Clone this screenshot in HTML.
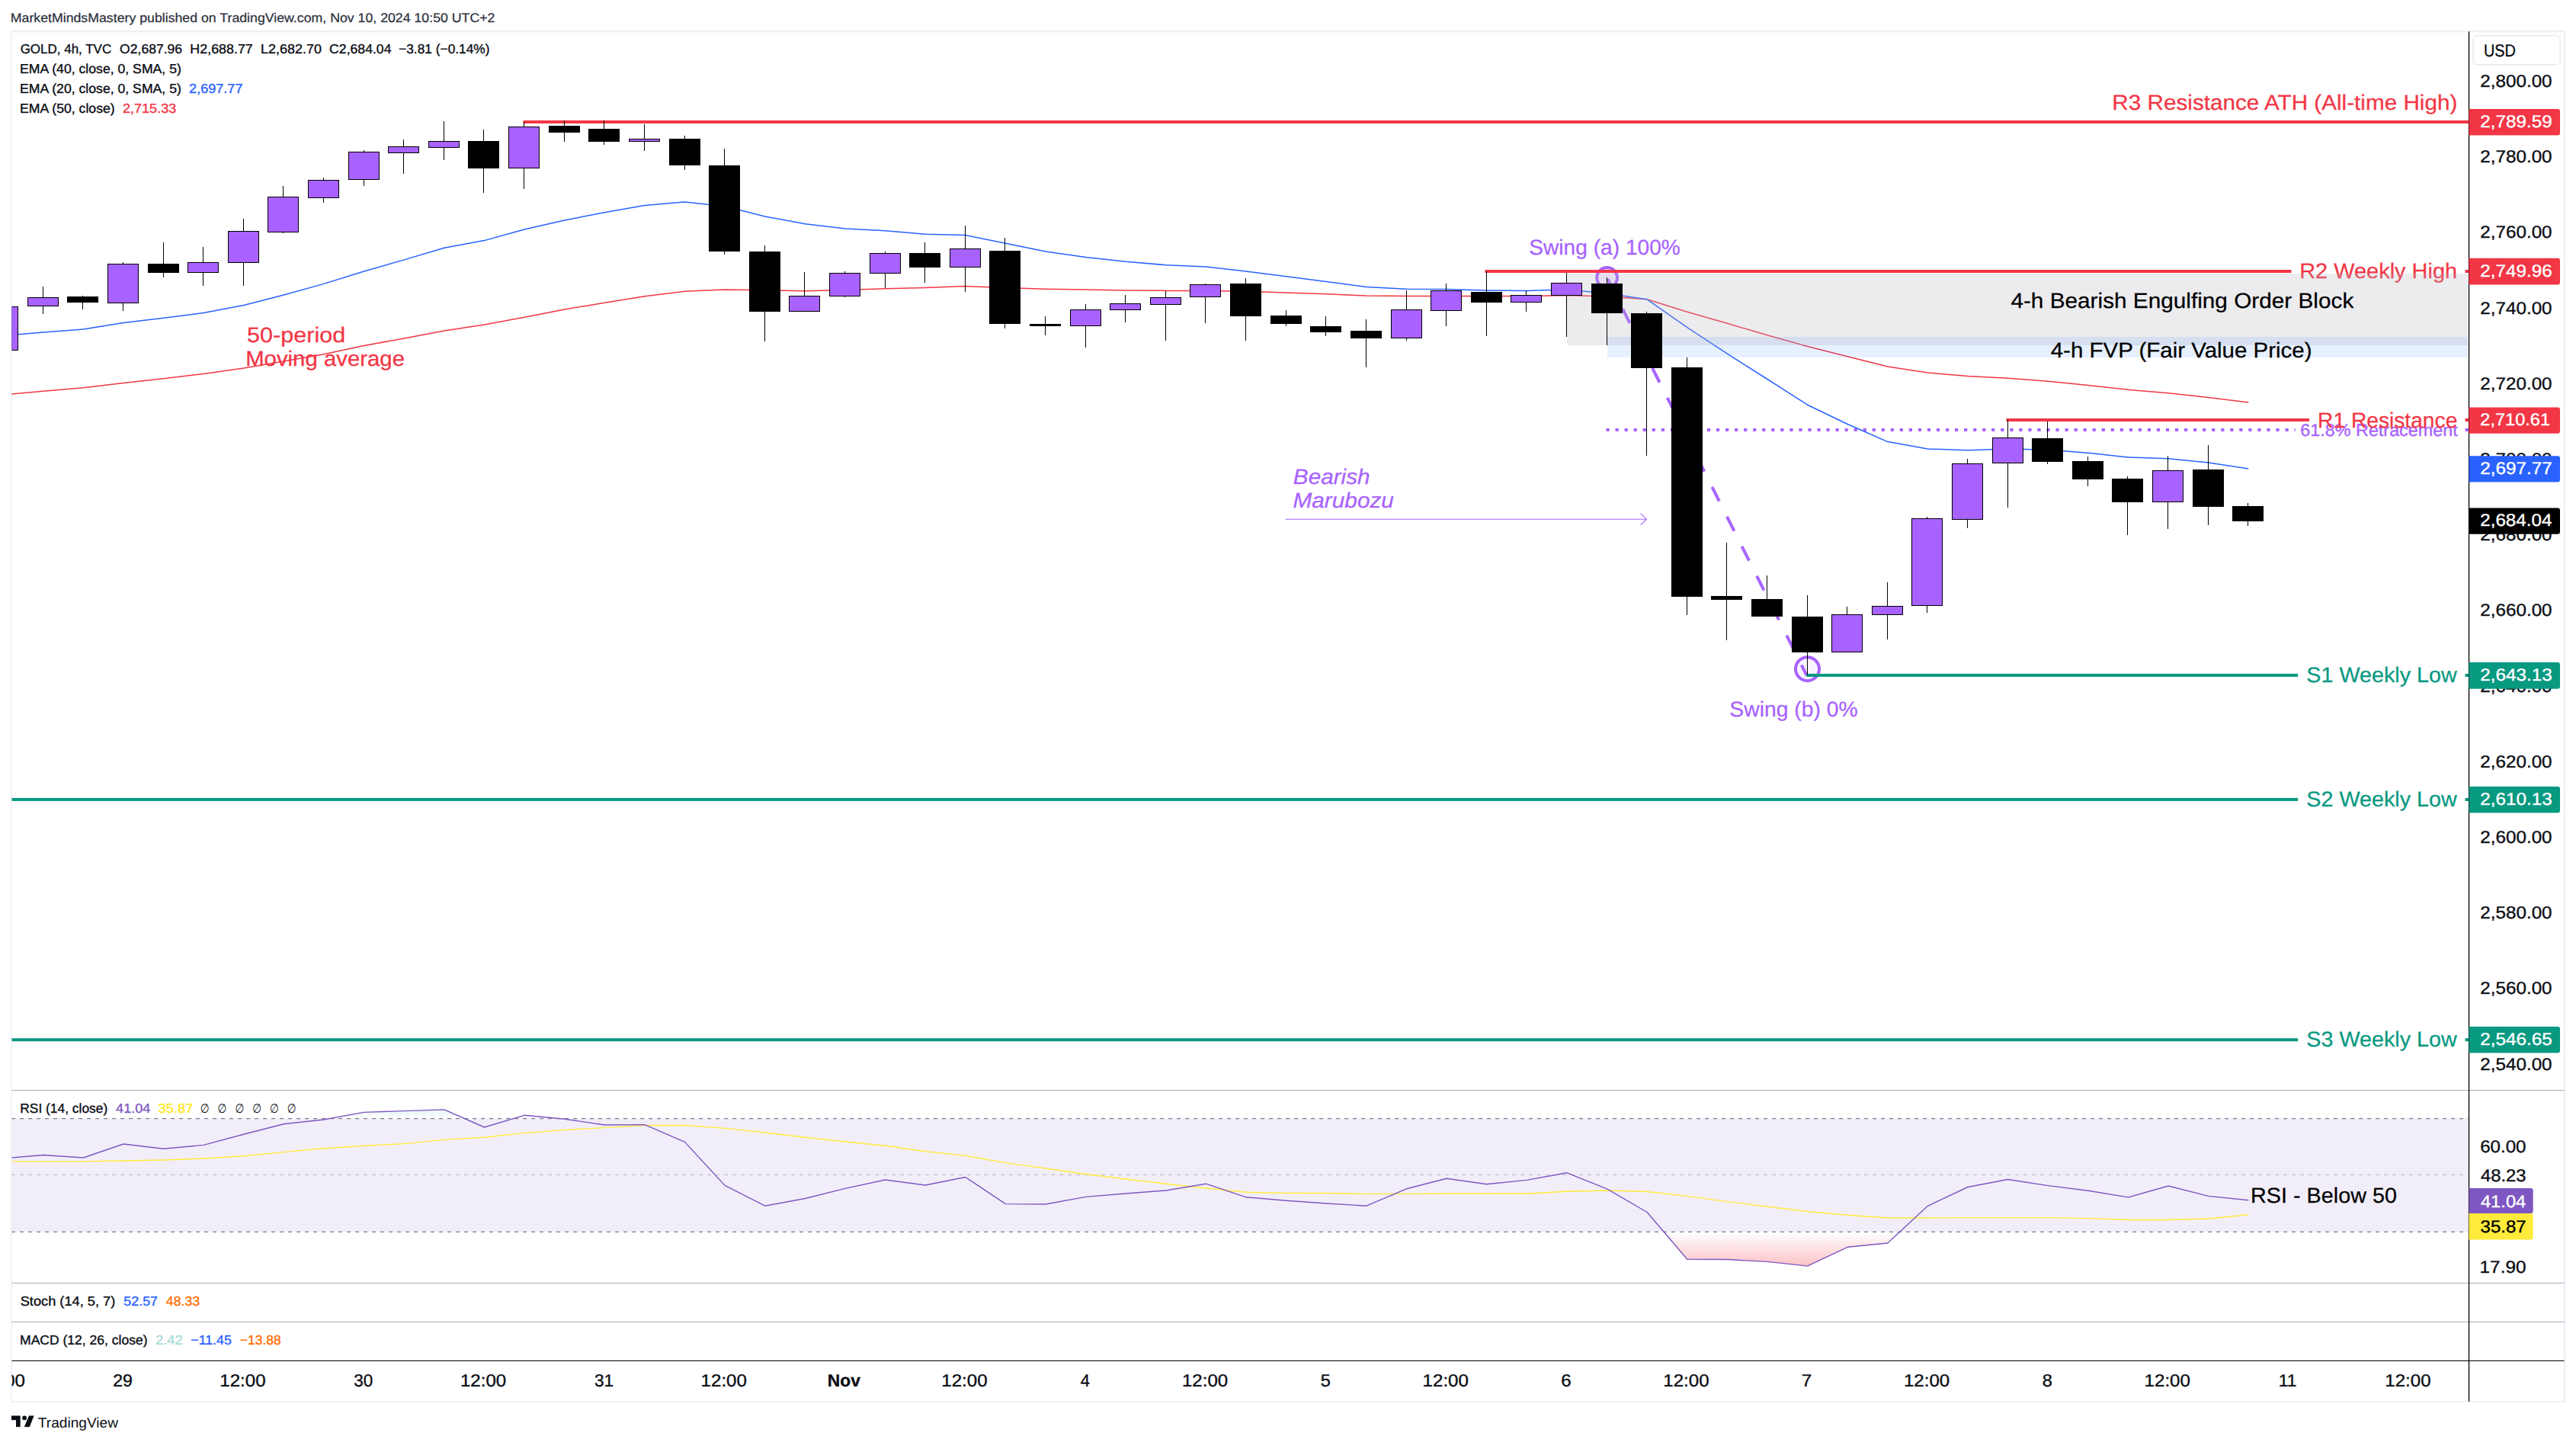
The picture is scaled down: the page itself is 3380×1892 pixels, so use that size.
<!DOCTYPE html>
<html lang="en"><head><meta charset="utf-8"><title>GOLD 4h chart - TradingView</title>
<style>html,body{margin:0;padding:0;background:#fff;}body{width:3380px;height:1892px;overflow:hidden;font-family:"Liberation Sans", "DejaVu Sans", sans-serif;}svg{display:block}</style>
</head><body>
<svg width="3380" height="1892" viewBox="0 0 3380 1892" font-family='"Liberation Sans", "DejaVu Sans", sans-serif' text-rendering="geometricPrecision">
<rect x="0" y="0" width="3380" height="1892" fill="#ffffff"/>
<rect x="14.3" y="40.2" width="3351.9" height="2.2" fill="#EEEFF6"/>
<rect x="3364" y="40.2" width="2.2" height="1799.8" fill="#EEEFF6"/>
<rect x="14.2" y="40.2" width="1.6" height="1799.8" fill="#EEEFF6"/>
<rect x="14.3" y="1838.3" width="3351.9" height="1.7" fill="#EEEFF6"/>
<text x="13.78" y="28.50" font-size="16.8" fill="#2E323E" textLength="635.66" lengthAdjust="spacingAndGlyphs" stroke="#2E323E" stroke-width="0.25">MarketMindsMastery published on TradingView.com, Nov 10, 2024 10:50 UTC+2</text>
<clipPath id="cpMain"><rect x="15.5" y="42" width="3224.0" height="1388"/></clipPath>
<g clip-path="url(#cpMain)">
<circle cx="2108.6" cy="364.3" r="13.4" fill="#A862FF" fill-opacity="0.12" stroke="#A862FF" stroke-width="4"/>
<circle cx="2371.5" cy="877.7" r="15.5" fill="#A862FF" fill-opacity="0.08" stroke="#A862FF" stroke-width="4"/>
<line x1="2108.6" y1="364.3" x2="2370.5" y2="886" stroke="#A862FF" stroke-width="4" stroke-dasharray="21 22.6" stroke-dashoffset="-2"/>
<line x1="2107.5" y1="564" x2="3011.7" y2="564" stroke="#A862FF" stroke-width="4" stroke-dasharray="4.2 7.84"/>
<line x1="3234.5" y1="564" x2="3239" y2="564" stroke="#A862FF" stroke-width="4"/>
<line x1="686.5" y1="160" x2="3239" y2="160" stroke="#F23645" stroke-width="4"/>
<line x1="1948.5" y1="356" x2="3006.4" y2="356" stroke="#F23645" stroke-width="4"/>
<line x1="3234.5" y1="356" x2="3239" y2="356" stroke="#F23645" stroke-width="4"/>
<line x1="2632.5" y1="551" x2="3030" y2="551" stroke="#F23645" stroke-width="4"/>
<line x1="3234.5" y1="551" x2="3239" y2="551" stroke="#F23645" stroke-width="4"/>
<line x1="2370.3" y1="886" x2="3015.2" y2="886" stroke="#089981" stroke-width="4"/>
<line x1="3234.5" y1="886" x2="3239" y2="886" stroke="#089981" stroke-width="4"/>
<line x1="15" y1="1049" x2="3015.2" y2="1049" stroke="#089981" stroke-width="4"/>
<line x1="3234.5" y1="1049" x2="3239" y2="1049" stroke="#089981" stroke-width="4"/>
<line x1="15" y1="1364.2" x2="3015.2" y2="1364.2" stroke="#089981" stroke-width="4"/>
<line x1="3234.5" y1="1364.2" x2="3239" y2="1364.2" stroke="#089981" stroke-width="4"/>
<path d="M1686.6 681.2H2160.4M2152.6 673.6L2160.4 681.2L2152.6 688.8" fill="none" stroke="#A862FF" stroke-width="1.1"/>
<polyline points="15.0,517.0 56.8,513.3 109.4,508.7 162.0,502.4 214.6,496.7 267.2,490.5 319.8,483.0 372.4,474.0 425.0,464.7 477.6,453.6 530.3,443.9 582.9,434.0 635.5,426.0 688.1,416.3 740.7,406.0 793.3,397.2 845.9,388.8 898.5,382.2 951.1,380.0 1003.8,380.8 1056.4,381.7 1109.0,380.4 1161.6,378.7 1214.2,377.4 1266.8,375.6 1319.4,377.4 1372.0,379.2 1424.6,380.0 1477.2,381.0 1529.8,381.4 1582.5,381.4 1635.1,382.3 1687.7,384.0 1740.3,385.8 1792.9,388.0 1845.5,388.5 1898.1,388.5 1950.7,388.5 2003.3,388.5 2056.0,387.6 2108.6,389.0 2161.2,392.8 2213.8,409.2 2266.4,424.3 2319.0,439.8 2371.6,454.5 2424.2,467.8 2476.8,481.0 2529.4,489.0 2582.0,493.5 2634.7,496.2 2687.3,500.2 2739.9,505.5 2792.5,511.3 2845.1,515.7 2897.7,521.5 2950.3,528.0" fill="none" stroke="#F23645" stroke-width="1.5" stroke-linejoin="round"/>
<polyline points="15.0,439.4 56.8,436.1 109.4,431.9 162.0,423.4 214.6,417.2 267.2,410.6 319.8,400.4 372.4,387.0 425.0,372.4 477.6,356.0 530.3,340.9 582.9,325.3 635.5,315.6 688.1,301.0 740.7,289.0 793.3,278.7 845.9,269.4 898.5,265.0 951.1,270.7 1003.8,284.0 1056.4,293.8 1109.0,300.0 1161.6,302.8 1214.2,307.3 1266.8,308.6 1319.4,319.3 1372.0,330.0 1424.6,337.5 1477.2,343.2 1529.8,347.7 1582.5,350.0 1635.1,356.0 1687.7,362.8 1740.3,369.4 1792.9,376.5 1845.5,379.2 1898.1,379.6 1950.7,381.0 2003.3,381.4 2056.0,380.0 2108.6,385.0 2161.2,392.8 2213.8,429.6 2266.4,464.2 2319.0,497.5 2371.6,531.2 2424.2,556.5 2476.8,579.6 2529.4,589.0 2582.0,590.7 2634.7,589.0 2687.3,590.3 2739.9,594.3 2792.5,600.0 2845.1,601.8 2897.7,607.0 2950.3,615.0" fill="none" stroke="#2962FF" stroke-width="1.5" stroke-linejoin="round"/>
<text x="3018.33" y="571.60" font-size="22.5" fill="#A862FF" textLength="206.36" lengthAdjust="spacingAndGlyphs" stroke="#A862FF" stroke-width="0.35">61.8% Retracement</text>
<text x="2771.33" y="143.90" font-size="28" fill="#F23645" textLength="453.02" lengthAdjust="spacingAndGlyphs" stroke="#F23645" stroke-width="0.25">R3 Resistance ATH (All-time High)</text>
<text x="3017.19" y="364.80" font-size="28" fill="#F23645" textLength="206.88" lengthAdjust="spacingAndGlyphs" stroke="#F23645" stroke-width="0.25">R2 Weekly High</text>
<text x="3041.05" y="560.70" font-size="28" fill="#F23645" textLength="183.27" lengthAdjust="spacingAndGlyphs" stroke="#F23645" stroke-width="0.25">R1 Resistance</text>
<text x="3026.31" y="894.80" font-size="28" fill="#089981" textLength="197.45" lengthAdjust="spacingAndGlyphs" stroke="#089981" stroke-width="0.25">S1 Weekly Low</text>
<text x="3026.31" y="1057.80" font-size="28" fill="#089981" textLength="197.45" lengthAdjust="spacingAndGlyphs" stroke="#089981" stroke-width="0.25">S2 Weekly Low</text>
<text x="3026.31" y="1373.00" font-size="28" fill="#089981" textLength="197.45" lengthAdjust="spacingAndGlyphs" stroke="#089981" stroke-width="0.25">S3 Weekly Low</text>
<rect x="2056" y="359" width="1182" height="94" fill="#B2B5BE" fill-opacity="0.25"/>
<rect x="2109" y="442" width="1129" height="27" fill="#5B9CF6" fill-opacity="0.15"/>
<g shape-rendering="crispEdges">
<rect x="-17" y="402" width="41" height="58" fill="#000"/><rect x="-16" y="403" width="39" height="56" fill="#A862FF"/>
<rect x="56" y="376" width="1" height="36" fill="#000"/>
<rect x="36" y="390" width="41" height="12" fill="#000"/>
<rect x="37" y="391" width="39" height="10" fill="#A862FF"/>
<rect x="108" y="388" width="1" height="18" fill="#000"/>
<rect x="88" y="389" width="41" height="8" fill="#000"/>
<rect x="161" y="344" width="1" height="64" fill="#000"/>
<rect x="141" y="346" width="41" height="52" fill="#000"/>
<rect x="142" y="347" width="39" height="50" fill="#A862FF"/>
<rect x="214" y="318" width="1" height="46" fill="#000"/>
<rect x="194" y="346" width="41" height="12" fill="#000"/>
<rect x="266" y="324" width="1" height="51" fill="#000"/>
<rect x="246" y="344" width="41" height="14" fill="#000"/>
<rect x="247" y="345" width="39" height="12" fill="#A862FF"/>
<rect x="319" y="287" width="1" height="88" fill="#000"/>
<rect x="299" y="303" width="41" height="42" fill="#000"/>
<rect x="300" y="304" width="39" height="40" fill="#A862FF"/>
<rect x="371" y="244" width="1" height="62" fill="#000"/>
<rect x="351" y="258" width="41" height="47" fill="#000"/>
<rect x="352" y="259" width="39" height="45" fill="#A862FF"/>
<rect x="424" y="233" width="1" height="33" fill="#000"/>
<rect x="404" y="236" width="41" height="24" fill="#000"/>
<rect x="405" y="237" width="39" height="22" fill="#A862FF"/>
<rect x="477" y="197" width="1" height="47" fill="#000"/>
<rect x="457" y="199" width="41" height="37" fill="#000"/>
<rect x="458" y="200" width="39" height="35" fill="#A862FF"/>
<rect x="529" y="183" width="1" height="45" fill="#000"/>
<rect x="509" y="192" width="41" height="9" fill="#000"/>
<rect x="510" y="193" width="39" height="7" fill="#A862FF"/>
<rect x="582" y="159" width="1" height="51" fill="#000"/>
<rect x="562" y="185" width="41" height="9" fill="#000"/>
<rect x="563" y="186" width="39" height="7" fill="#A862FF"/>
<rect x="634" y="170" width="1" height="83" fill="#000"/>
<rect x="614" y="185" width="41" height="36" fill="#000"/>
<rect x="687" y="160" width="1" height="88" fill="#000"/>
<rect x="667" y="166" width="41" height="55" fill="#000"/>
<rect x="668" y="167" width="39" height="53" fill="#A862FF"/>
<rect x="740" y="158" width="1" height="28" fill="#000"/>
<rect x="720" y="165" width="41" height="9" fill="#000"/>
<rect x="792" y="158" width="1" height="32" fill="#000"/>
<rect x="772" y="169" width="41" height="17" fill="#000"/>
<rect x="845" y="163" width="1" height="35" fill="#000"/>
<rect x="825" y="182" width="41" height="4" fill="#000"/>
<rect x="826" y="183" width="39" height="2" fill="#A862FF"/>
<rect x="898" y="178" width="1" height="45" fill="#000"/>
<rect x="878" y="182" width="41" height="35" fill="#000"/>
<rect x="950" y="195" width="1" height="139" fill="#000"/>
<rect x="930" y="217" width="41" height="113" fill="#000"/>
<rect x="1003" y="322" width="1" height="126" fill="#000"/>
<rect x="983" y="330" width="41" height="79" fill="#000"/>
<rect x="1055" y="357" width="1" height="52" fill="#000"/>
<rect x="1035" y="388" width="41" height="21" fill="#000"/>
<rect x="1036" y="389" width="39" height="19" fill="#A862FF"/>
<rect x="1108" y="356" width="1" height="34" fill="#000"/>
<rect x="1088" y="358" width="41" height="31" fill="#000"/>
<rect x="1089" y="359" width="39" height="29" fill="#A862FF"/>
<rect x="1161" y="330" width="1" height="48" fill="#000"/>
<rect x="1141" y="332" width="41" height="27" fill="#000"/>
<rect x="1142" y="333" width="39" height="25" fill="#A862FF"/>
<rect x="1213" y="318" width="1" height="53" fill="#000"/>
<rect x="1193" y="332" width="41" height="19" fill="#000"/>
<rect x="1266" y="296" width="1" height="87" fill="#000"/>
<rect x="1246" y="326" width="41" height="25" fill="#000"/>
<rect x="1247" y="327" width="39" height="23" fill="#A862FF"/>
<rect x="1318" y="312" width="1" height="119" fill="#000"/>
<rect x="1298" y="329" width="41" height="96" fill="#000"/>
<rect x="1371" y="415" width="1" height="25" fill="#000"/>
<rect x="1351" y="425" width="41" height="3" fill="#000"/>
<rect x="1424" y="399" width="1" height="57" fill="#000"/>
<rect x="1404" y="406" width="41" height="22" fill="#000"/>
<rect x="1405" y="407" width="39" height="20" fill="#A862FF"/>
<rect x="1476" y="387" width="1" height="36" fill="#000"/>
<rect x="1456" y="398" width="41" height="9" fill="#000"/>
<rect x="1457" y="399" width="39" height="7" fill="#A862FF"/>
<rect x="1529" y="382" width="1" height="65" fill="#000"/>
<rect x="1509" y="390" width="41" height="10" fill="#000"/>
<rect x="1510" y="391" width="39" height="8" fill="#A862FF"/>
<rect x="1581" y="372" width="1" height="52" fill="#000"/>
<rect x="1561" y="373" width="41" height="17" fill="#000"/>
<rect x="1562" y="374" width="39" height="15" fill="#A862FF"/>
<rect x="1634" y="365" width="1" height="82" fill="#000"/>
<rect x="1614" y="372" width="41" height="43" fill="#000"/>
<rect x="1687" y="407" width="1" height="21" fill="#000"/>
<rect x="1667" y="414" width="41" height="11" fill="#000"/>
<rect x="1739" y="415" width="1" height="26" fill="#000"/>
<rect x="1719" y="428" width="41" height="8" fill="#000"/>
<rect x="1792" y="419" width="1" height="63" fill="#000"/>
<rect x="1772" y="434" width="41" height="10" fill="#000"/>
<rect x="1845" y="381" width="1" height="66" fill="#000"/>
<rect x="1825" y="406" width="41" height="38" fill="#000"/>
<rect x="1826" y="407" width="39" height="36" fill="#A862FF"/>
<rect x="1897" y="372" width="1" height="56" fill="#000"/>
<rect x="1877" y="381" width="41" height="27" fill="#000"/>
<rect x="1878" y="382" width="39" height="25" fill="#A862FF"/>
<rect x="1950" y="356" width="1" height="85" fill="#000"/>
<rect x="1930" y="383" width="41" height="14" fill="#000"/>
<rect x="2002" y="381" width="1" height="28" fill="#000"/>
<rect x="1982" y="387" width="41" height="10" fill="#000"/>
<rect x="1983" y="388" width="39" height="8" fill="#A862FF"/>
<rect x="2055" y="358" width="1" height="84" fill="#000"/>
<rect x="2035" y="371" width="41" height="17" fill="#000"/>
<rect x="2036" y="372" width="39" height="15" fill="#A862FF"/>
<rect x="2108" y="364" width="1" height="89" fill="#000"/>
<rect x="2088" y="372" width="41" height="39" fill="#000"/>
<rect x="2160" y="409" width="1" height="189" fill="#000"/>
<rect x="2140" y="411" width="41" height="72" fill="#000"/>
<rect x="2213" y="469" width="1" height="338" fill="#000"/>
<rect x="2193" y="482" width="41" height="301" fill="#000"/>
<rect x="2265" y="712" width="1" height="128" fill="#000"/>
<rect x="2245" y="782" width="41" height="5" fill="#000"/>
<rect x="2318" y="755" width="1" height="54" fill="#000"/>
<rect x="2298" y="786" width="41" height="23" fill="#000"/>
<rect x="2371" y="781" width="1" height="105" fill="#000"/>
<rect x="2351" y="809" width="41" height="47" fill="#000"/>
<rect x="2423" y="796" width="1" height="60" fill="#000"/>
<rect x="2403" y="806" width="41" height="50" fill="#000"/>
<rect x="2404" y="807" width="39" height="48" fill="#A862FF"/>
<rect x="2476" y="764" width="1" height="75" fill="#000"/>
<rect x="2456" y="795" width="41" height="12" fill="#000"/>
<rect x="2457" y="796" width="39" height="10" fill="#A862FF"/>
<rect x="2528" y="678" width="1" height="126" fill="#000"/>
<rect x="2508" y="680" width="41" height="115" fill="#000"/>
<rect x="2509" y="681" width="39" height="113" fill="#A862FF"/>
<rect x="2581" y="602" width="1" height="91" fill="#000"/>
<rect x="2561" y="608" width="41" height="74" fill="#000"/>
<rect x="2562" y="609" width="39" height="72" fill="#A862FF"/>
<rect x="2634" y="551" width="1" height="115" fill="#000"/>
<rect x="2614" y="574" width="41" height="34" fill="#000"/>
<rect x="2615" y="575" width="39" height="32" fill="#A862FF"/>
<rect x="2686" y="553" width="1" height="56" fill="#000"/>
<rect x="2666" y="575" width="41" height="31" fill="#000"/>
<rect x="2739" y="599" width="1" height="39" fill="#000"/>
<rect x="2719" y="605" width="41" height="24" fill="#000"/>
<rect x="2791" y="625" width="1" height="77" fill="#000"/>
<rect x="2771" y="628" width="41" height="31" fill="#000"/>
<rect x="2844" y="598" width="1" height="96" fill="#000"/>
<rect x="2824" y="617" width="41" height="42" fill="#000"/>
<rect x="2825" y="618" width="39" height="40" fill="#A862FF"/>
<rect x="2897" y="584" width="1" height="105" fill="#000"/>
<rect x="2877" y="616" width="41" height="49" fill="#000"/>
<rect x="2949" y="660" width="1" height="30" fill="#000"/>
<rect x="2929" y="664" width="41" height="20" fill="#000"/>
</g>
<text x="2638.40" y="404.20" font-size="28" fill="#000" textLength="449.87" lengthAdjust="spacingAndGlyphs" stroke="#000" stroke-width="0.25">4-h Bearish Engulfing Order Block</text>
<text x="2690.71" y="469.30" font-size="28" fill="#000" textLength="342.82" lengthAdjust="spacingAndGlyphs" stroke="#000" stroke-width="0.25">4-h FVP (Fair Value Price)</text>
<text x="2006.23" y="333.70" font-size="28" fill="#A862FF" textLength="198.63" lengthAdjust="spacingAndGlyphs" stroke="#A862FF" stroke-width="0.25">Swing (a) 100%</text>
<text x="2269.33" y="939.60" font-size="28" fill="#A862FF" textLength="168.28" lengthAdjust="spacingAndGlyphs" stroke="#A862FF" stroke-width="0.25">Swing (b) 0%</text>
<text x="1696.81" y="635.00" font-size="28" fill="#A862FF" textLength="100.85" lengthAdjust="spacingAndGlyphs" font-style="italic" stroke="#A862FF" stroke-width="0.25">Bearish</text>
<text x="1696.41" y="665.50" font-size="28" fill="#A862FF" textLength="132.55" lengthAdjust="spacingAndGlyphs" font-style="italic" stroke="#A862FF" stroke-width="0.25">Marubozu</text>
<text x="323.98" y="449.40" font-size="28" fill="#F23645" textLength="129.27" lengthAdjust="spacingAndGlyphs" stroke="#F23645" stroke-width="0.25">50-period</text>
<text x="322.15" y="479.50" font-size="28" fill="#F23645" textLength="208.84" lengthAdjust="spacingAndGlyphs" stroke="#F23645" stroke-width="0.25">Moving average</text>
</g>
<text x="26.65" y="70.00" font-size="17.3" fill="#0B0D14" textLength="119.52" lengthAdjust="spacingAndGlyphs" stroke="#0B0D14" stroke-width="0.35">GOLD, 4h, TVC</text>
<text x="157.11" y="70.00" font-size="17.3" fill="#0B0D14" textLength="82.00" lengthAdjust="spacingAndGlyphs" stroke="#0B0D14" stroke-width="0.35">O2,687.96</text>
<text x="249.37" y="70.00" font-size="17.3" fill="#0B0D14" textLength="82.43" lengthAdjust="spacingAndGlyphs" stroke="#0B0D14" stroke-width="0.35">H2,688.77</text>
<text x="342.06" y="70.00" font-size="17.3" fill="#0B0D14" textLength="79.84" lengthAdjust="spacingAndGlyphs" stroke="#0B0D14" stroke-width="0.35">L2,682.70</text>
<text x="432.12" y="70.00" font-size="17.3" fill="#0B0D14" textLength="81.32" lengthAdjust="spacingAndGlyphs" stroke="#0B0D14" stroke-width="0.35">C2,684.04</text>
<text x="523.13" y="70.00" font-size="17.3" fill="#0B0D14" textLength="119.38" lengthAdjust="spacingAndGlyphs" stroke="#0B0D14" stroke-width="0.35">−3.81 (−0.14%)</text>
<text x="26.09" y="95.80" font-size="17.3" fill="#0B0D14" textLength="211.76" lengthAdjust="spacingAndGlyphs" stroke="#0B0D14" stroke-width="0.35">EMA (40, close, 0, SMA, 5)</text>
<text x="26.09" y="121.70" font-size="17.3" fill="#0B0D14" textLength="211.76" lengthAdjust="spacingAndGlyphs" stroke="#0B0D14" stroke-width="0.35">EMA (20, close, 0, SMA, 5)</text>
<text x="248.10" y="121.70" font-size="17.3" fill="#2962FF" textLength="70.37" lengthAdjust="spacingAndGlyphs" stroke="#2962FF" stroke-width="0.35">2,697.77</text>
<text x="26.09" y="147.60" font-size="17.3" fill="#0B0D14" textLength="124.64" lengthAdjust="spacingAndGlyphs" stroke="#0B0D14" stroke-width="0.35">EMA (50, close)</text>
<text x="160.90" y="147.60" font-size="17.3" fill="#F23645" textLength="70.38" lengthAdjust="spacingAndGlyphs" stroke="#F23645" stroke-width="0.35">2,715.33</text>
<rect x="15.5" y="1430.00" width="3349.0" height="1" fill="#A9ACBA"/>
<rect x="15.5" y="1683.00" width="3349.0" height="1" fill="#A9ACBA"/>
<rect x="15.5" y="1734.00" width="3349.0" height="1" fill="#A9ACBA"/>
<rect x="15.5" y="1785" width="3349.0" height="1" fill="#000"/>
<rect x="3238.9" y="41.3" width="1.3" height="1797.7" fill="#000"/>
<rect x="3245.1" y="46.7" width="114.1" height="38" rx="4.7" fill="#fff" stroke="#E8E9F2" stroke-width="1.5"/>
<text x="3258.91" y="73.50" font-size="22.7" fill="#0B0D14" textLength="42.02" lengthAdjust="spacingAndGlyphs" stroke="#0B0D14" stroke-width="0.35">USD</text>
<text x="3254.29" y="113.90" font-size="22.7" fill="#0B0D14" textLength="94.32" lengthAdjust="spacingAndGlyphs" stroke="#0B0D14" stroke-width="0.35">2,800.00</text>
<text x="3254.29" y="213.10" font-size="22.7" fill="#0B0D14" textLength="94.32" lengthAdjust="spacingAndGlyphs" stroke="#0B0D14" stroke-width="0.35">2,780.00</text>
<text x="3254.29" y="312.30" font-size="22.7" fill="#0B0D14" textLength="94.32" lengthAdjust="spacingAndGlyphs" stroke="#0B0D14" stroke-width="0.35">2,760.00</text>
<text x="3254.29" y="411.50" font-size="22.7" fill="#0B0D14" textLength="94.32" lengthAdjust="spacingAndGlyphs" stroke="#0B0D14" stroke-width="0.35">2,740.00</text>
<text x="3254.29" y="510.70" font-size="22.7" fill="#0B0D14" textLength="94.32" lengthAdjust="spacingAndGlyphs" stroke="#0B0D14" stroke-width="0.35">2,720.00</text>
<text x="3254.29" y="609.90" font-size="22.7" fill="#0B0D14" textLength="94.32" lengthAdjust="spacingAndGlyphs" stroke="#0B0D14" stroke-width="0.35">2,700.00</text>
<text x="3254.29" y="709.10" font-size="22.7" fill="#0B0D14" textLength="94.32" lengthAdjust="spacingAndGlyphs" stroke="#0B0D14" stroke-width="0.35">2,680.00</text>
<text x="3254.29" y="808.30" font-size="22.7" fill="#0B0D14" textLength="94.32" lengthAdjust="spacingAndGlyphs" stroke="#0B0D14" stroke-width="0.35">2,660.00</text>
<text x="3254.29" y="907.50" font-size="22.7" fill="#0B0D14" textLength="94.32" lengthAdjust="spacingAndGlyphs" stroke="#0B0D14" stroke-width="0.35">2,640.00</text>
<text x="3254.29" y="1006.70" font-size="22.7" fill="#0B0D14" textLength="94.32" lengthAdjust="spacingAndGlyphs" stroke="#0B0D14" stroke-width="0.35">2,620.00</text>
<text x="3254.29" y="1105.90" font-size="22.7" fill="#0B0D14" textLength="94.32" lengthAdjust="spacingAndGlyphs" stroke="#0B0D14" stroke-width="0.35">2,600.00</text>
<text x="3254.29" y="1205.10" font-size="22.7" fill="#0B0D14" textLength="94.32" lengthAdjust="spacingAndGlyphs" stroke="#0B0D14" stroke-width="0.35">2,580.00</text>
<text x="3254.29" y="1304.30" font-size="22.7" fill="#0B0D14" textLength="94.32" lengthAdjust="spacingAndGlyphs" stroke="#0B0D14" stroke-width="0.35">2,560.00</text>
<text x="3254.29" y="1403.50" font-size="22.7" fill="#0B0D14" textLength="94.32" lengthAdjust="spacingAndGlyphs" stroke="#0B0D14" stroke-width="0.35">2,540.00</text>
<path d="M3239.5 143H3356Q3359 143 3359 146V174.6Q3359 177.6 3356 177.6H3239.5Z" fill="#F23645"/>
<text x="3254.29" y="166.90" font-size="22.7" fill="#fff" textLength="94.57" lengthAdjust="spacingAndGlyphs" stroke="#fff" stroke-width="0.35">2,789.59</text>
<path d="M3239.5 338.8H3356Q3359 338.8 3359 341.8V370.4Q3359 373.4 3356 373.4H3239.5Z" fill="#F23645"/>
<text x="3254.29" y="362.70" font-size="22.7" fill="#fff" textLength="94.45" lengthAdjust="spacingAndGlyphs" stroke="#fff" stroke-width="0.35">2,749.96</text>
<path d="M3239.5 534.4H3356Q3359 534.4 3359 537.4V565.7Q3359 568.7 3356 568.7H3239.5Z" fill="#F23645"/>
<text x="3254.32" y="558.15" font-size="22.7" fill="#fff" textLength="91.80" lengthAdjust="spacingAndGlyphs" stroke="#fff" stroke-width="0.35">2,710.61</text>
<path d="M3239.5 598.3H3356Q3359 598.3 3359 601.3V629.5Q3359 632.5 3356 632.5H3239.5Z" fill="#2962FF"/>
<text x="3254.29" y="622.00" font-size="22.7" fill="#fff" textLength="94.57" lengthAdjust="spacingAndGlyphs" stroke="#fff" stroke-width="0.35">2,697.77</text>
<path d="M3239.5 666.4H3356Q3359 666.4 3359 669.4V697.7Q3359 700.7 3356 700.7H3239.5Z" fill="#000"/>
<text x="3254.29" y="690.15" font-size="22.7" fill="#fff" textLength="94.08" lengthAdjust="spacingAndGlyphs" stroke="#fff" stroke-width="0.35">2,684.04</text>
<path d="M3239.5 869H3356Q3359 869 3359 872V900.7Q3359 903.7 3356 903.7H3239.5Z" fill="#089981"/>
<text x="3254.29" y="892.95" font-size="22.7" fill="#fff" textLength="94.45" lengthAdjust="spacingAndGlyphs" stroke="#fff" stroke-width="0.35">2,643.13</text>
<path d="M3239.5 1031.9H3356Q3359 1031.9 3359 1034.9V1063.5Q3359 1066.5 3356 1066.5H3239.5Z" fill="#089981"/>
<text x="3254.29" y="1055.80" font-size="22.7" fill="#fff" textLength="94.45" lengthAdjust="spacingAndGlyphs" stroke="#fff" stroke-width="0.35">2,610.13</text>
<path d="M3239.5 1347H3356Q3359 1347 3359 1350V1378.6Q3359 1381.6 3356 1381.6H3239.5Z" fill="#089981"/>
<text x="3254.29" y="1370.90" font-size="22.7" fill="#fff" textLength="94.45" lengthAdjust="spacingAndGlyphs" stroke="#fff" stroke-width="0.35">2,546.65</text>
<clipPath id="cpRsi"><rect x="15.5" y="1431.5" width="3224.0" height="251.5"/></clipPath>
<g clip-path="url(#cpRsi)">
<rect x="15.5" y="1467.5" width="3224.0" height="148.70000000000005" fill="#7E57C2" fill-opacity="0.1"/>
<defs><linearGradient id="gOS" x1="0" y1="1616" x2="0" y2="1690" gradientUnits="userSpaceOnUse"><stop offset="0" stop-color="#F23645" stop-opacity="0"/><stop offset="1" stop-color="#F23645" stop-opacity="0.5"/></linearGradient><linearGradient id="gOB" x1="0" y1="1440" x2="0" y2="1467.5" gradientUnits="userSpaceOnUse"><stop offset="0" stop-color="#089981" stop-opacity="0.25"/><stop offset="1" stop-color="#089981" stop-opacity="0"/></linearGradient></defs>
<polygon points="2183.1,1616.2 2213.8,1652.2 2266.4,1652.5 2319.0,1655.4 2371.6,1661.1 2424.2,1636.3 2476.8,1631.0 2492.8,1616.2" fill="url(#gOS)"/>
<polygon points="433.3,1467.5 477.6,1459.4 530.3,1457.6 582.9,1455.9 609.3,1467.5" fill="url(#gOB)"/>
<polygon points="674.0,1467.5 688.1,1463.3 733.2,1467.5" fill="url(#gOB)"/>
<line x1="15.1" y1="1467.6" x2="3239.5" y2="1467.6" stroke="#787B86" stroke-width="1.2" stroke-dasharray="5 6"/>
<line x1="15.1" y1="1541.5" x2="3239.5" y2="1541.5" stroke="#787B86" stroke-opacity="0.5" stroke-width="1" stroke-dasharray="5 6"/>
<line x1="15.1" y1="1616.3" x2="3239.5" y2="1616.3" stroke="#787B86" stroke-width="1.2" stroke-dasharray="5 6"/>
<polyline points="15.0,1523.9 109.4,1523.9 162.0,1523.0 214.6,1522.0 267.2,1520.0 319.8,1516.8 372.4,1511.6 425.0,1506.8 477.6,1503.2 530.3,1500.6 582.9,1495.4 635.5,1492.3 688.1,1486.6 740.7,1482.6 793.3,1479.6 845.9,1476.5 898.5,1476.5 951.1,1480.4 1003.8,1486.0 1056.4,1492.3 1109.0,1498.0 1161.6,1503.2 1214.2,1510.7 1266.8,1516.4 1319.4,1525.6 1372.0,1533.0 1424.6,1540.5 1477.2,1547.0 1529.8,1553.2 1582.5,1559.0 1635.1,1564.2 1687.7,1565.5 1740.3,1565.5 1792.9,1566.4 1845.5,1566.4 1898.1,1566.0 1950.7,1566.0 2003.3,1566.0 2056.0,1563.3 2108.6,1562.0 2161.2,1563.5 2213.8,1569.4 2266.4,1576.6 2319.0,1583.3 2371.6,1589.5 2424.2,1594.3 2476.8,1598.0 2529.4,1598.0 2582.0,1597.6 2634.7,1597.6 2687.3,1597.6 2739.9,1598.6 2792.5,1600.5 2845.1,1600.5 2897.7,1599.0 2950.3,1593.8" fill="none" stroke="#FFEB3B" stroke-width="1.4" stroke-linejoin="round"/>
<polyline points="15.0,1519.0 56.8,1515.5 109.4,1519.0 162.0,1501.0 214.6,1507.2 267.2,1502.4 319.8,1488.3 372.4,1474.7 425.0,1469.0 477.6,1459.4 530.3,1457.6 582.9,1455.9 635.5,1479.0 688.1,1463.3 740.7,1468.2 793.3,1476.0 845.9,1475.6 898.5,1498.4 951.1,1555.4 1003.8,1582.2 1056.4,1572.5 1109.0,1559.4 1161.6,1548.0 1214.2,1555.0 1266.8,1544.5 1319.4,1579.6 1372.0,1580.0 1424.6,1570.4 1477.2,1566.0 1529.8,1562.0 1582.5,1553.2 1635.1,1570.8 1687.7,1575.2 1740.3,1579.0 1792.9,1582.2 1845.5,1559.8 1898.1,1546.2 1950.7,1553.7 2003.3,1548.4 2056.0,1538.8 2108.6,1559.8 2161.2,1590.5 2213.8,1652.2 2266.4,1652.5 2319.0,1655.4 2371.6,1661.1 2424.2,1636.3 2476.8,1631.0 2529.4,1582.3 2582.0,1557.5 2634.7,1547.5 2687.3,1555.6 2739.9,1562.3 2792.5,1570.9 2845.1,1556.0 2897.7,1569.4 2950.3,1574.7" fill="none" stroke="#7E57C2" stroke-width="1.4" stroke-linejoin="round"/>
<text x="2953.00" y="1577.90" font-size="28" fill="#000" textLength="192.00" lengthAdjust="spacingAndGlyphs" stroke="#000" stroke-width="0.25">RSI - Below 50</text>
</g>
<text x="26.31" y="1459.70" font-size="17.3" fill="#0B0D14" textLength="114.91" lengthAdjust="spacingAndGlyphs" stroke="#0B0D14" stroke-width="0.35">RSI (14, close)</text>
<text x="152.14" y="1459.70" font-size="17.3" fill="#7E57C2" textLength="45.16" lengthAdjust="spacingAndGlyphs" stroke="#7E57C2" stroke-width="0.35">41.04</text>
<text x="207.56" y="1459.80" font-size="17.3" fill="#FFE826" textLength="45.91" lengthAdjust="spacingAndGlyphs" stroke="#FFE826" stroke-width="0.35">35.87</text>
<text transform="translate(268.7 1459.7) scale(0.82 1)" font-size="16.5" fill="#0B0D14" text-anchor="middle" font-style="italic">∅</text>
<text transform="translate(291.5 1459.7) scale(0.82 1)" font-size="16.5" fill="#0B0D14" text-anchor="middle" font-style="italic">∅</text>
<text transform="translate(314.4 1459.7) scale(0.82 1)" font-size="16.5" fill="#0B0D14" text-anchor="middle" font-style="italic">∅</text>
<text transform="translate(337.2 1459.7) scale(0.82 1)" font-size="16.5" fill="#0B0D14" text-anchor="middle" font-style="italic">∅</text>
<text transform="translate(359.9 1459.7) scale(0.82 1)" font-size="16.5" fill="#0B0D14" text-anchor="middle" font-style="italic">∅</text>
<text transform="translate(382.7 1459.7) scale(0.82 1)" font-size="16.5" fill="#0B0D14" text-anchor="middle" font-style="italic">∅</text>
<text x="3254.20" y="1511.90" font-size="22.7" fill="#0B0D14" textLength="60.31" lengthAdjust="spacingAndGlyphs" stroke="#0B0D14" stroke-width="0.35">60.00</text>
<text x="3254.92" y="1549.60" font-size="22.7" fill="#0B0D14" textLength="59.69" lengthAdjust="spacingAndGlyphs" stroke="#0B0D14" stroke-width="0.35">48.23</text>
<text x="3253.57" y="1669.50" font-size="22.7" fill="#0B0D14" textLength="60.94" lengthAdjust="spacingAndGlyphs" stroke="#0B0D14" stroke-width="0.35">17.90</text>
<path d="M3239.5 1559H3320.7Q3323.7 1559 3323.7 1562V1589Q3323.7 1592 3320.7 1592H3239.5Z" fill="#7E57C2"/>
<text x="3254.93" y="1584.30" font-size="22.7" fill="#fff" textLength="59.33" lengthAdjust="spacingAndGlyphs" stroke="#fff" stroke-width="0.35">41.04</text>
<path d="M3239.5 1592H3320.7Q3323.7 1592 3323.7 1595V1623.6Q3323.7 1626.6 3320.7 1626.6H3239.5Z" fill="#FFEB3B"/>
<text x="3254.56" y="1617.30" font-size="22.7" fill="#000" textLength="60.18" lengthAdjust="spacingAndGlyphs" stroke="#000" stroke-width="0.35">35.87</text>
<text x="26.68" y="1712.90" font-size="17.3" fill="#0B0D14" textLength="124.66" lengthAdjust="spacingAndGlyphs" stroke="#0B0D14" stroke-width="0.35">Stoch (14, 5, 7)</text>
<text x="162.28" y="1712.90" font-size="17.3" fill="#2962FF" textLength="44.77" lengthAdjust="spacingAndGlyphs" stroke="#2962FF" stroke-width="0.35">52.57</text>
<text x="217.85" y="1712.90" font-size="17.3" fill="#FF6D00" textLength="44.20" lengthAdjust="spacingAndGlyphs" stroke="#FF6D00" stroke-width="0.35">48.33</text>
<text x="26.10" y="1763.90" font-size="17.3" fill="#0B0D14" textLength="167.43" lengthAdjust="spacingAndGlyphs" stroke="#0B0D14" stroke-width="0.35">MACD (12, 26, close)</text>
<text x="204.09" y="1763.90" font-size="17.3" fill="#A8DCD4" textLength="35.56" lengthAdjust="spacingAndGlyphs" stroke="#A8DCD4" stroke-width="0.35">2.42</text>
<text x="250.31" y="1763.90" font-size="17.3" fill="#2962FF" textLength="53.54" lengthAdjust="spacingAndGlyphs" stroke="#2962FF" stroke-width="0.35">−11.45</text>
<text x="314.83" y="1763.90" font-size="17.3" fill="#FF6D00" textLength="53.90" lengthAdjust="spacingAndGlyphs" stroke="#FF6D00" stroke-width="0.35">−13.88</text>
<clipPath id="cpT"><rect x="15.5" y="1786" width="3224.0" height="52"/></clipPath><g clip-path="url(#cpT)">
<text x="-27.35" y="1819.00" font-size="22.7" fill="#0B0D14" textLength="60.31" lengthAdjust="spacingAndGlyphs" stroke="#0B0D14" stroke-width="0.35">12:00</text>
<text x="148.24" y="1819.00" font-size="22.7" fill="#0B0D14" textLength="25.64" lengthAdjust="spacingAndGlyphs" stroke="#0B0D14" stroke-width="0.35">29</text>
<text x="288.31" y="1819.00" font-size="22.7" fill="#0B0D14" textLength="60.31" lengthAdjust="spacingAndGlyphs" stroke="#0B0D14" stroke-width="0.35">12:00</text>
<text x="464.26" y="1819.00" font-size="22.7" fill="#0B0D14" textLength="25.03" lengthAdjust="spacingAndGlyphs" stroke="#0B0D14" stroke-width="0.35">30</text>
<text x="603.97" y="1819.00" font-size="22.7" fill="#0B0D14" textLength="60.31" lengthAdjust="spacingAndGlyphs" stroke="#0B0D14" stroke-width="0.35">12:00</text>
<text x="779.91" y="1819.00" font-size="22.7" fill="#0B0D14" textLength="25.27" lengthAdjust="spacingAndGlyphs" stroke="#0B0D14" stroke-width="0.35">31</text>
<text x="919.63" y="1819.00" font-size="22.7" fill="#0B0D14" textLength="60.31" lengthAdjust="spacingAndGlyphs" stroke="#0B0D14" stroke-width="0.35">12:00</text>
<text x="1085.79" y="1819.00" font-size="22.7" fill="#0B0D14" textLength="43.06" lengthAdjust="spacingAndGlyphs" font-weight="bold" stroke="#0B0D14" stroke-width="0.35">Nov</text>
<text x="1235.29" y="1819.00" font-size="22.7" fill="#0B0D14" textLength="60.31" lengthAdjust="spacingAndGlyphs" stroke="#0B0D14" stroke-width="0.35">12:00</text>
<text x="1417.69" y="1819.00" font-size="22.7" fill="#0B0D14" textLength="12.21" lengthAdjust="spacingAndGlyphs" stroke="#0B0D14" stroke-width="0.35">4</text>
<text x="1550.95" y="1819.00" font-size="22.7" fill="#0B0D14" textLength="60.31" lengthAdjust="spacingAndGlyphs" stroke="#0B0D14" stroke-width="0.35">12:00</text>
<text x="1732.85" y="1819.00" font-size="22.7" fill="#0B0D14" textLength="13.11" lengthAdjust="spacingAndGlyphs" stroke="#0B0D14" stroke-width="0.35">5</text>
<text x="1866.61" y="1819.00" font-size="22.7" fill="#0B0D14" textLength="60.31" lengthAdjust="spacingAndGlyphs" stroke="#0B0D14" stroke-width="0.35">12:00</text>
<text x="2048.25" y="1819.00" font-size="22.7" fill="#0B0D14" textLength="13.40" lengthAdjust="spacingAndGlyphs" stroke="#0B0D14" stroke-width="0.35">6</text>
<text x="2182.27" y="1819.00" font-size="22.7" fill="#0B0D14" textLength="60.31" lengthAdjust="spacingAndGlyphs" stroke="#0B0D14" stroke-width="0.35">12:00</text>
<text x="2363.89" y="1819.00" font-size="22.7" fill="#0B0D14" textLength="13.54" lengthAdjust="spacingAndGlyphs" stroke="#0B0D14" stroke-width="0.35">7</text>
<text x="2497.93" y="1819.00" font-size="22.7" fill="#0B0D14" textLength="60.31" lengthAdjust="spacingAndGlyphs" stroke="#0B0D14" stroke-width="0.35">12:00</text>
<text x="2679.83" y="1819.00" font-size="22.7" fill="#0B0D14" textLength="13.11" lengthAdjust="spacingAndGlyphs" stroke="#0B0D14" stroke-width="0.35">8</text>
<text x="2813.59" y="1819.00" font-size="22.7" fill="#0B0D14" textLength="60.31" lengthAdjust="spacingAndGlyphs" stroke="#0B0D14" stroke-width="0.35">12:00</text>
<text x="2989.81" y="1819.00" font-size="22.7" fill="#0B0D14" textLength="23.83" lengthAdjust="spacingAndGlyphs" stroke="#0B0D14" stroke-width="0.35">11</text>
<text x="3129.25" y="1819.00" font-size="22.7" fill="#0B0D14" textLength="60.31" lengthAdjust="spacingAndGlyphs" stroke="#0B0D14" stroke-width="0.35">12:00</text>
</g>
<path d="M15 1857.4H26.7V1872.2H21V1863.2H15Z M38 1857.4H44.6L38.8 1872.2H31.8Z" fill="#0B0D14"/><circle cx="32.1" cy="1860.4" r="2.9" fill="#0B0D14"/>
<text x="49.82" y="1872.50" font-size="18.6" fill="#0B0D14" textLength="105.15" lengthAdjust="spacingAndGlyphs">TradingView</text>
</svg>
</body></html>
